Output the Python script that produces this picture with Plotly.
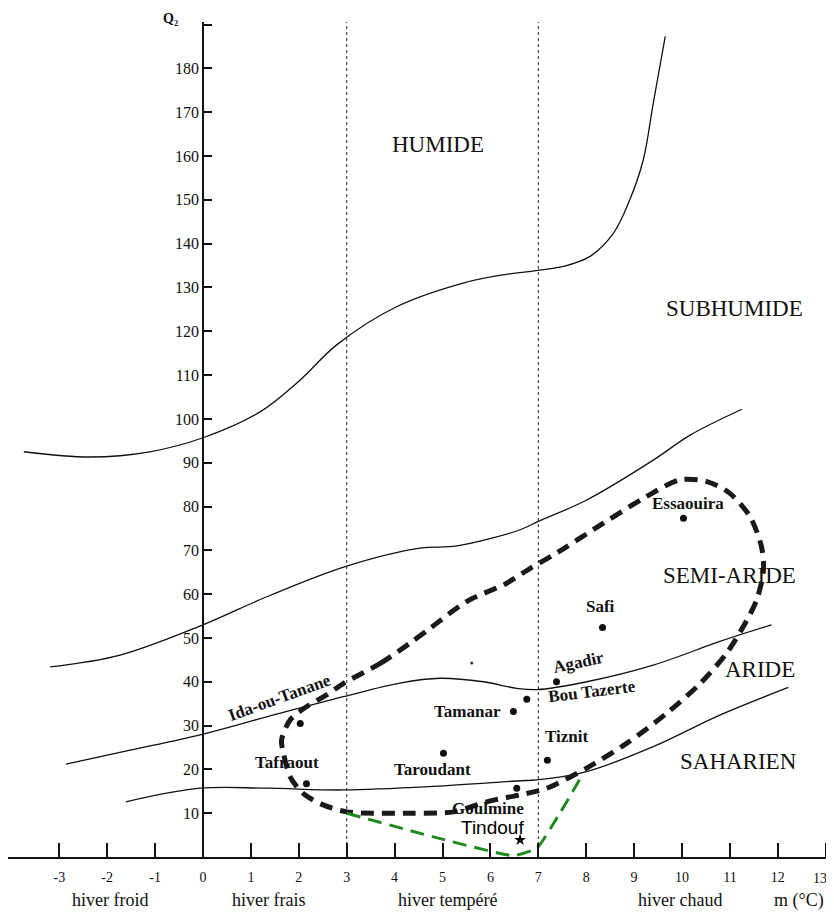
import plotly.graph_objects as go

# ---------------- data ----------------
# Emberger boundary curves (m in °C, Q2)
humide_x = [-3.74, -2.36, -1.11, 0.0, 1.19, 2.03, 2.79, 4.04, 5.43, 6.27, 7.0, 7.52, 8.08, 8.57, 8.91, 9.19, 9.40, 9.65]
humide_y = [92.5, 91.3, 92.5, 95.7, 101.6, 108.9, 116.9, 125.6, 131.0, 132.9, 133.9, 134.8, 137.1, 142.4, 150.0, 159.1, 172.1, 187.3]

subhum_x = [-3.19, -1.73, 0.0, 1.33, 3.0, 4.53, 5.3, 6.62, 7.0, 8.01, 9.40, 10.17, 11.25]
subhum_y = [43.4, 46.1, 53.0, 59.4, 66.4, 70.5, 71.0, 74.7, 76.6, 81.5, 90.6, 96.3, 102.2]

semiar_x = [-2.86, -1.52, -0.06, 1.33, 2.93, 4.11, 4.95, 5.85, 6.55, 6.97, 8.01, 9.40, 10.79, 11.87]
semiar_y = [21.2, 24.4, 27.9, 32.0, 36.6, 39.7, 40.8, 40.0, 38.5, 38.2, 40.0, 43.8, 49.2, 53.0]

aride_x = [-1.61, -0.06, 1.33, 2.93, 4.81, 6.62, 6.97, 8.01, 9.40, 10.79, 12.22]
aride_y = [12.6, 15.7, 15.7, 15.3, 16.1, 17.4, 17.6, 19.5, 25.2, 32.4, 38.7]

# winter-type boundaries
winter_bounds = [3, 7]

# envelope of the Moroccan argan stations (black dashed)
envelope_x = [2.93, 3.70, 4.32, 4.74, 5.50, 6.34, 6.83, 7.31, 8.36, 9.26, 9.96, 10.52, 11.00, 11.42,
              11.66, 11.70, 11.56, 11.28, 10.93, 10.38, 9.68, 8.85, 8.01, 7.18, 6.62, 5.92, 5.23,
              4.39, 3.56, 3.00, 2.51, 2.09, 1.82, 1.68, 1.64, 1.82, 2.16, 2.58, 2.93]
envelope_y = [39.6, 44.2, 48.8, 52.2, 58.3, 62.5, 65.9, 68.9, 76.2, 82.3, 86.1, 85.7, 83.0, 77.7,
              70.8, 65.5, 58.7, 52.6, 46.5, 39.6, 32.8, 26.0, 20.3, 15.7, 14.2, 12.6, 10.3,
              10.0, 10.0, 10.3, 11.9, 14.5, 18.3, 23.7, 26.7, 31.3, 34.3, 37.0, 39.6]

# extension towards Tindouf (green dashed)
ext_x = [3.0, 4.81, 6.48, 6.97, 7.45, 7.94]
ext_y = [10.0, 4.6, 0.3, 2.0, 10.0, 19.1]

# stations
stations = ["Essaouira", "Safi", "Agadir", "Bou Tazerte", "Tiznit", "Tamanar",
            "Taroudant", "Tafraout", "Ida-ou-Tanane", "Goulmine"]
station_m = [10.03, 8.34, 7.38, 6.76, 7.19, 6.48, 5.02, 2.16, 2.03, 6.55]
station_q = [77.3, 52.4, 40.0, 36.0, 22.1, 33.2, 23.7, 16.7, 30.5, 15.7]
label_m = [10.13, 8.29, 7.83, 8.12, 7.58, 5.53, 4.80, 1.75, 1.61, 5.95]
label_q = [80.8, 57.1, 44.3, 37.7, 27.6, 33.3, 19.9, 21.5, 36.3, 11.0]
label_angle = [0, 0, -12, -7, 0, 0, 0, 0, -20, 0]

tindouf_m = [6.62]
tindouf_q = [3.9]

stray_m = [5.61]
stray_q = [44.3]

# bioclimatic zones
zones = ["HUMIDE", "SUBHUMIDE", "SEMI-ARIDE", "ARIDE", "SAHARIEN"]
zone_m = [4.91, 11.1, 11.0, 11.63, 11.17]
zone_q = [162.6, 125.3, 64.2, 42.9, 21.7]

# axis ticks
x_ticks = list(range(-3, 14))
x_ticklabels = [str(v) if v < 13 else "" for v in x_ticks]
x_last_label = "13"
x_last_label_pos = 12.88
y_ticks = list(range(10, 200, 10))
y_ticklabels = [str(v) if v <= 180 else " " for v in y_ticks]

winter_types = ["hiver froid", "hiver frais", "hiver tempéré", "hiver chaud", "m (°C)"]
winter_pos = [-1.94, 1.36, 5.11, 9.96, 12.44]

# ---------------- figure ----------------
SERIF = "Liberation Serif, Times New Roman, serif"
fig = go.Figure()

for xs, ys in [(humide_x, humide_y), (subhum_x, subhum_y), (semiar_x, semiar_y), (aride_x, aride_y)]:
    fig.add_trace(go.Scatter(x=xs, y=ys, mode="lines", line=dict(color="#111", width=1.3, shape="spline", smoothing=1.0),
                             hoverinfo="skip", showlegend=False))

for b in winter_bounds:
    fig.add_trace(go.Scatter(x=[b, b], y=[0, 190.6], mode="lines", line=dict(color="#222", width=1, dash="dot"),
                             hoverinfo="skip", showlegend=False))

fig.add_trace(go.Scatter(x=envelope_x, y=envelope_y, mode="lines",
                         line=dict(color="#1a1a1a", width=5, dash="13px,8px", shape="spline", smoothing=0.8),
                         hoverinfo="skip", showlegend=False))

fig.add_trace(go.Scatter(x=ext_x, y=ext_y, mode="lines",
                         line=dict(color="#1f8a1f", width=3, dash="14px,8px", shape="spline", smoothing=0.4),
                         hoverinfo="skip", showlegend=False))

fig.add_trace(go.Scatter(x=station_m, y=station_q, mode="markers",
                         marker=dict(color="#111", size=7), hoverinfo="skip", showlegend=False))
fig.add_trace(go.Scatter(x=stray_m, y=stray_q, mode="markers",
                         marker=dict(color="#333", size=3), hoverinfo="skip", showlegend=False))
fig.add_trace(go.Scatter(x=tindouf_m, y=tindouf_q, mode="markers",
                         marker=dict(color="#000", size=9, symbol="star"), hoverinfo="skip", showlegend=False))

annotations = []
for name, xm, yq, ang in zip(stations, label_m, label_q, label_angle):
    annotations.append(dict(x=xm, y=yq, text=f"<b>{name}</b>", showarrow=False, textangle=ang,
                            font=dict(family=SERIF, size=17, color="#111")))
annotations.append(dict(x=6.05, y=6.8, text="Tindouf", showarrow=False,
                        font=dict(family="Liberation Sans, Arial, sans-serif", size=19, color="#000")))
for name, xm, yq in zip(zones, zone_m, zone_q):
    annotations.append(dict(x=xm, y=yq, text=name, showarrow=False,
                            font=dict(family=SERIF, size=23, color="#111")))
for name, xm in zip(winter_types, winter_pos):
    annotations.append(dict(x=xm, y=-0.052, xref="x", yref="paper", text=name, showarrow=False,
                            yanchor="middle", font=dict(family=SERIF, size=18, color="#111")))
annotations.append(dict(x=x_last_label_pos, y=-0.026, xref="x", yref="paper", text=x_last_label, showarrow=False,
                        yanchor="middle", font=dict(family=SERIF, size=14, color="#111")))
annotations.append(dict(x=-0.67, y=1.004, xref="x", yref="paper", text="<b>Q₂</b>", showarrow=False,
                        yanchor="middle", font=dict(family=SERIF, size=14, color="#111")))

fig.update_layout(
    width=834, height=914,
    margin=dict(l=0, r=8, t=14, b=65),
    paper_bgcolor="white", plot_bgcolor="white",
    showlegend=False,
    annotations=annotations,
    xaxis=dict(range=[-4.071, 13.173], tickvals=x_ticks, ticktext=x_ticklabels,
               ticks="inside", ticklen=14, tickwidth=1.5, tickcolor="#111",
               showline=True, linecolor="#111", linewidth=2, showgrid=False, zeroline=False,
               ticklabelstandoff=6, ticklabeloverflow="allow",
               tickfont=dict(family=SERIF, size=14, color="#111")),
    yaxis=dict(range=[0, 190.6], tickvals=y_ticks, ticktext=y_ticklabels,
               anchor="free", position=0.2361,
               ticks="inside", ticklen=8, tickwidth=1.5, tickcolor="#111",
               showline=True, linecolor="#111", linewidth=1.5, showgrid=False, zeroline=False,
               tickfont=dict(family=SERIF, size=16, color="#111")),
)

fig.write_html("out.html")
